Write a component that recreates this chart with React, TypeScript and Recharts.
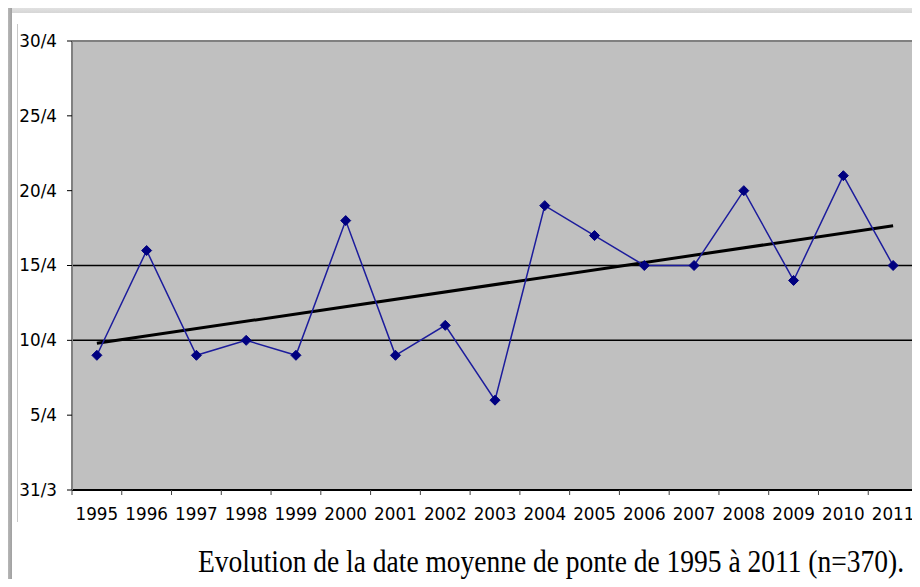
import { LineChart, Line, XAxis, YAxis, CartesianGrid, ReferenceLine } from 'recharts';

const years = ['1995', '1996', '1997', '1998', '1999', '2000', '2001', '2002', '2003', '2004', '2005', '2006', '2007', '2008', '2009', '2010', '2011'];
// mean laying day, counted in days of April (0 = 31/3)
const layingDay = [9, 16, 9, 10, 9, 18, 9, 11, 6, 19, 17, 15, 15, 20, 14, 21, 15];
const yTicks = [0, 5, 10, 15, 20, 25, 30];
const yTickLabels = ['31/3', '5/4', '10/4', '15/4', '20/4', '25/4', '30/4'];
const trendStart = 9.8;
const trendEnd = 17.65;
const refLevels = [10, 15];

const data = years.map((year, i) => ({ x: i, year, day: layingDay[i] }));
const lastIdx = years.length - 1;
// labels sit on the categories, tick marks on the borders between them
const xTicks: number[] = [];
for (let i = 0; i <= lastIdx; i++) xTicks.push(i - 0.5, i);
xTicks.push(lastIdx + 0.5);

const font = '"DejaVu Sans", Arial, sans-serif';
const X_TICK = 5;
const X_MARGIN = 13;

const Diamond = (props: any) => {
  const { cx, cy } = props;
  if (cx == null || cy == null) return null;
  const r = 5;
  return (
    <path
      d={`M${cx},${cy - r} L${cx + r},${cy} L${cx},${cy + r} L${cx - r},${cy} Z`}
      fill="#000080"
      stroke="#000080"
    />
  );
};

const XTick = (props: any) => {
  const { x, y, payload } = props;
  const v = payload.value;
  if (Number.isInteger(v)) {
    return (
      <text x={x} y={y} dy="0.71em" textAnchor="middle" fontSize={16.8} fontFamily={font} fill="#000">
        {years[v]}
      </text>
    );
  }
  const axisY = y - X_TICK - X_MARGIN;
  return <line x1={x} x2={x} y1={axisY} y2={axisY + X_TICK} stroke="#404040" strokeWidth={1} />;
};

export default function App() {
  return (
    <div style={{ position: 'relative', width: 920, height: 587, margin: -8, background: '#fff', overflow: 'hidden' }}>
      {/* page shadow on top and left */}
      <div style={{ position: 'absolute', left: 0, top: 0, width: 920, height: 13, background: 'linear-gradient(to bottom, #f2f2f2, #d6d6d6)' }} />
      <div style={{ position: 'absolute', left: 0, top: 0, width: 12, height: 587, background: 'linear-gradient(to right, #e6e6e6, #a0a0a0)' }} />
      <div style={{ position: 'absolute', left: 17, top: 24, width: 1, height: 498, background: '#c8c8c8' }} />

      <div style={{ position: 'absolute', left: 0, top: 0 }}>
        <LineChart width={920} height={530} data={data} margin={{ top: 41, right: 2, bottom: 10, left: 12 }}>
          <CartesianGrid fill="#c0c0c0" horizontal={false} vertical={false} />
          <XAxis
            dataKey="x"
            type="number"
            domain={[-0.5, lastIdx + 0.5]}
            ticks={xTicks}
            interval={0}
            tick={<XTick />}
            tickLine={false}
            tickSize={X_TICK}
            tickMargin={X_MARGIN}
            axisLine={{ stroke: '#000', strokeWidth: 2 }}
            height={30}
          />
          <YAxis
            type="number"
            domain={[0, 30]}
            ticks={yTicks}
            interval={0}
            tickFormatter={(v: number) => yTickLabels[yTicks.indexOf(v)]}
            width={60}
            tickSize={5}
            tickMargin={10}
            tickLine={{ stroke: '#000' }}
            axisLine={{ stroke: '#808080', strokeWidth: 2 }}
            tick={{ fontSize: 16.8, fill: '#000', fontFamily: font }}
          />
          <ReferenceLine y={30} stroke="#808080" strokeWidth={2} />
          <ReferenceLine x={lastIdx + 0.5} stroke="#808080" strokeWidth={2} />
          {refLevels.map((lv) => (
            <ReferenceLine key={lv} y={lv} stroke="#000" strokeWidth={1.5} />
          ))}
          <ReferenceLine
            segment={[
              { x: 0, y: trendStart },
              { x: lastIdx, y: trendEnd },
            ]}
            stroke="#000"
            strokeWidth={3}
          />
          <Line
            dataKey="day"
            stroke="#1c1c9c"
            strokeWidth={1.5}
            dot={<Diamond />}
            activeDot={false}
            isAnimationActive={false}
          />
        </LineChart>
      </div>

      <svg style={{ position: 'absolute', left: 0, top: 520 }} width={920} height={67}>
        <text
          transform="translate(198,52) scale(1,1.18)"
          x={0}
          y={0}
          textLength={706}
          lengthAdjust="spacingAndGlyphs"
          fontFamily='"Liberation Serif", "Times New Roman", serif'
          fontSize={27}
          fill="#000"
        >
          Evolution de la date moyenne de ponte de 1995 à 2011 (n=370).
        </text>
      </svg>
    </div>
  );
}
